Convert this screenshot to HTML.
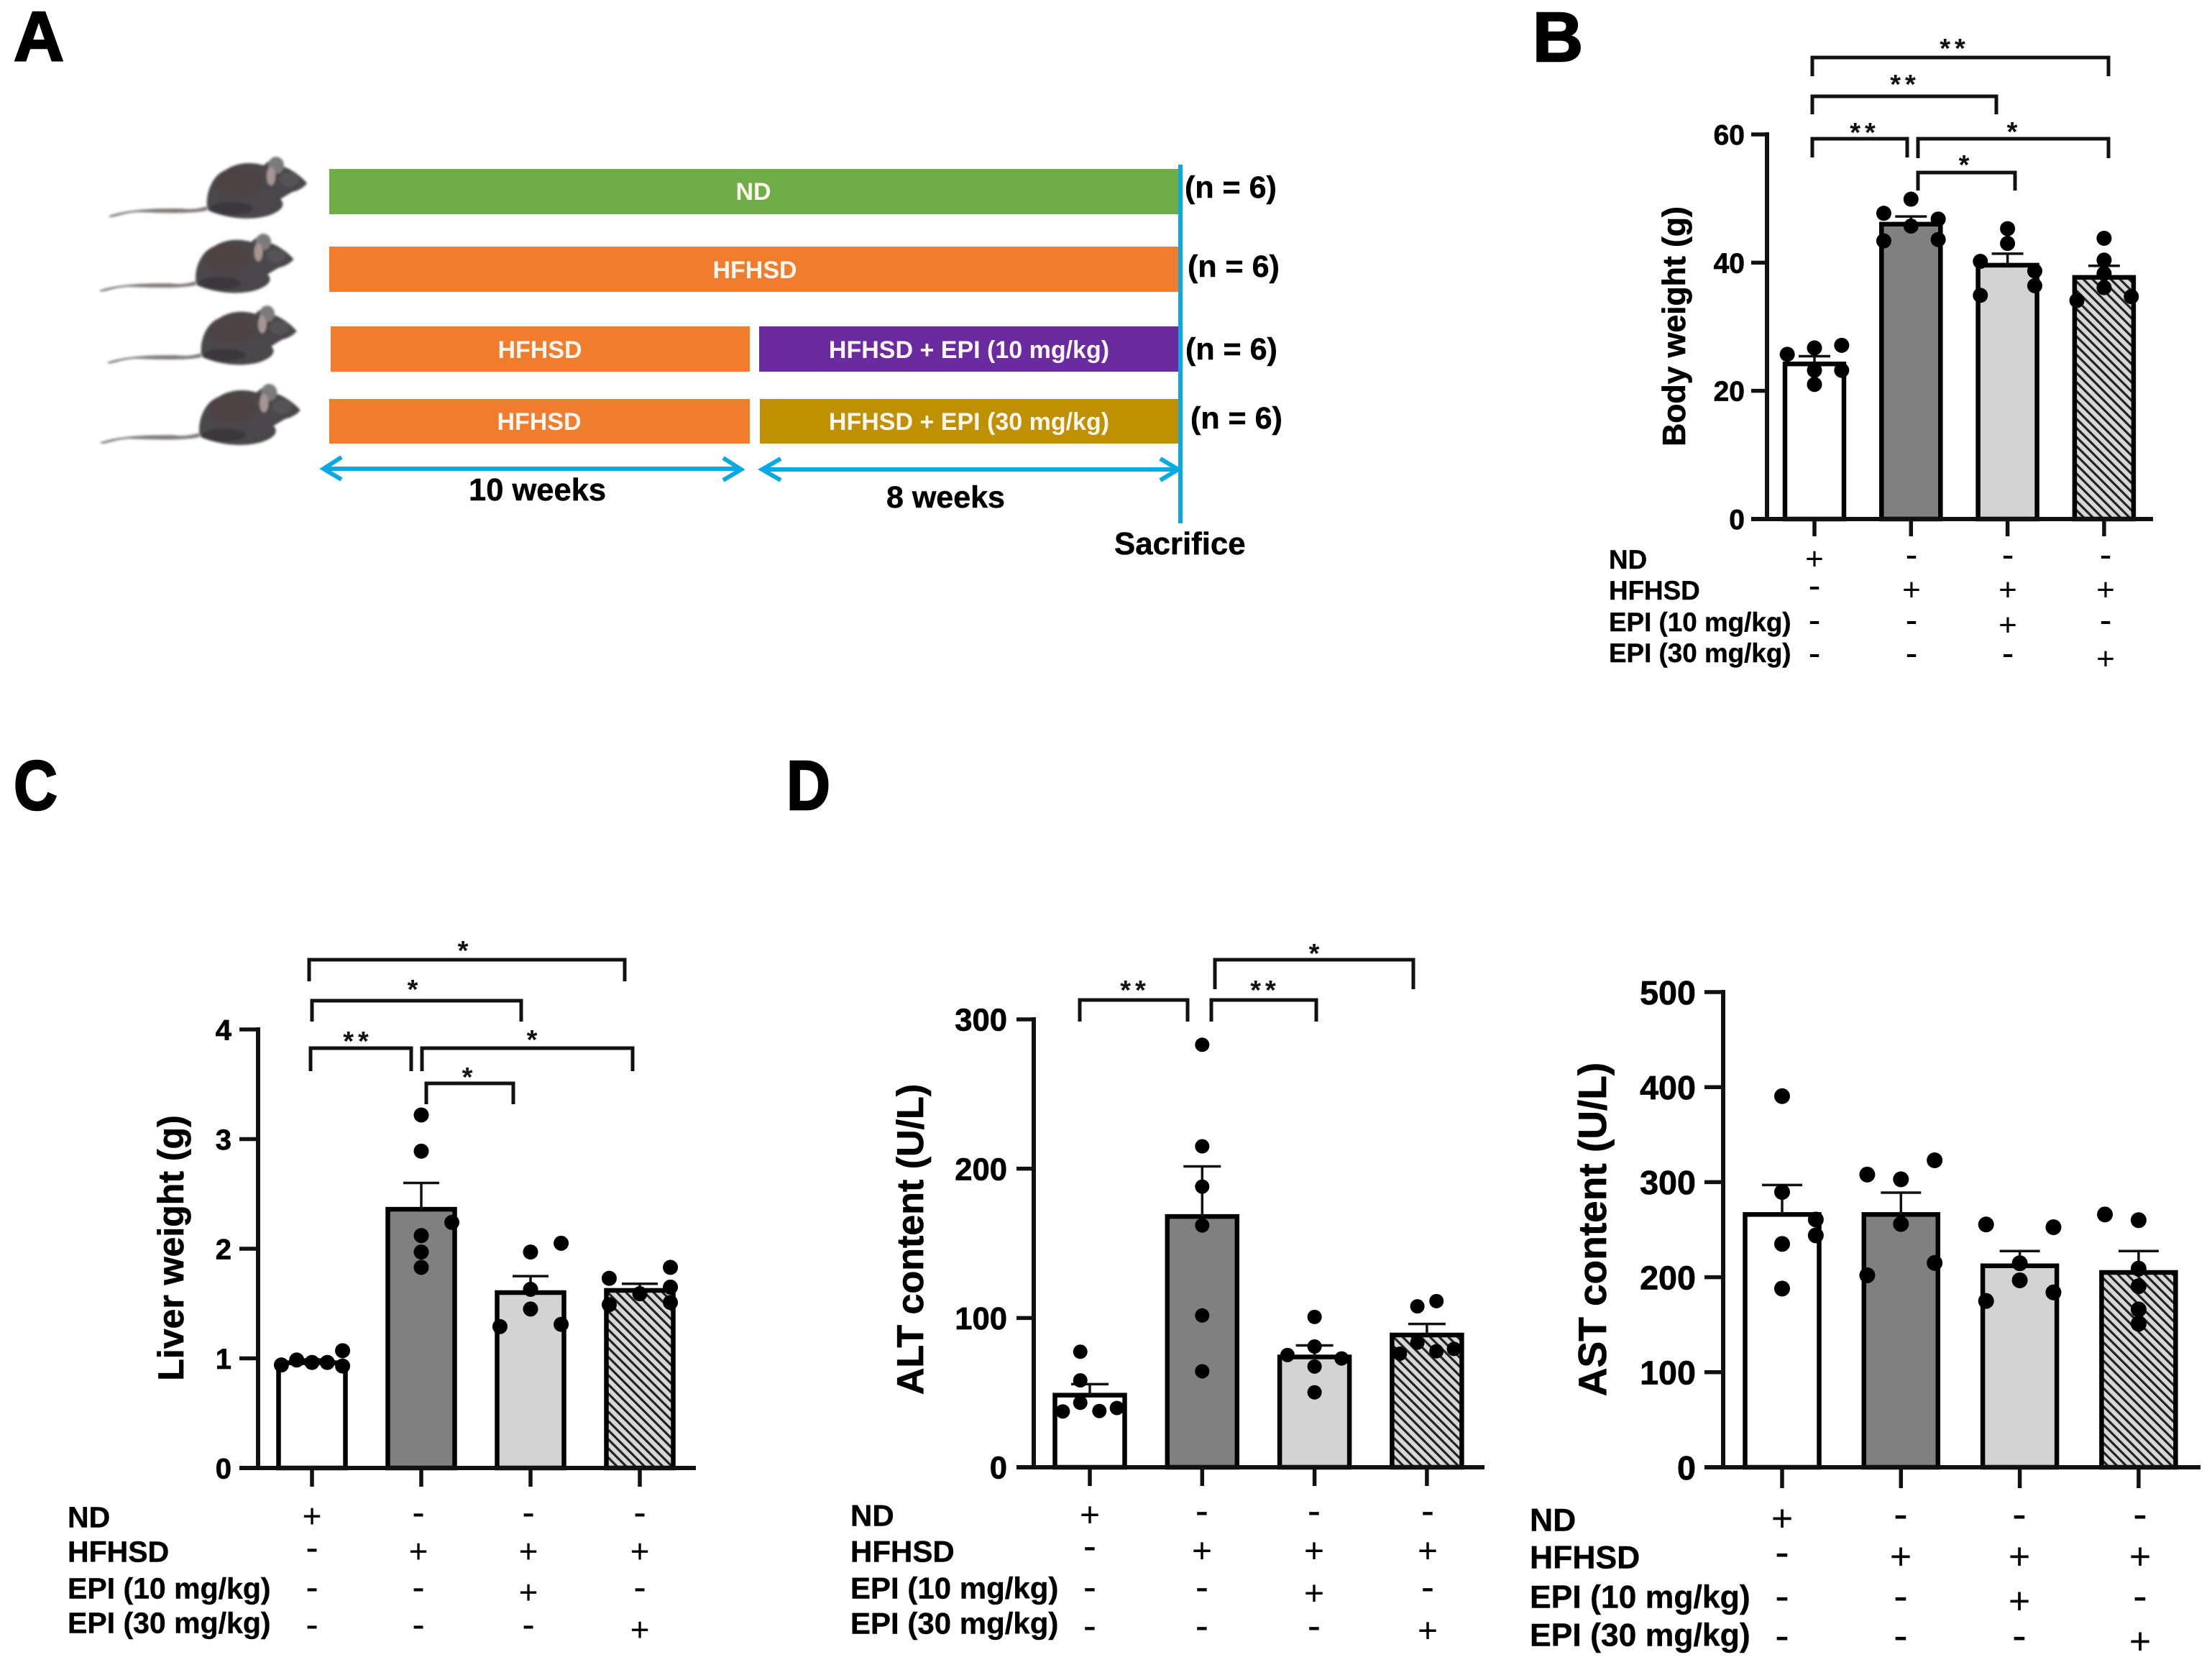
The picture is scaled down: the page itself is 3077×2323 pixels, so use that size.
<!DOCTYPE html>
<html lang="en">
<head>
<meta charset="utf-8">
<title>Epicatechin mouse study figure</title>
<style>
html,body{margin:0;padding:0;background:#fff}
svg{display:block;font-family:"Liberation Sans",Arial,sans-serif}
.b{font-weight:700;fill:#000;stroke:#000;stroke-width:.5px}
.w{font-weight:700;fill:#fdf6ee;text-anchor:middle;font-size:34px}
.panel{font-weight:700;font-size:97px;stroke:#000;stroke-width:2.5px;fill:#000}
.n{font-weight:700;font-size:43px;stroke:#000;stroke-width:.5px}
.br{fill:none;stroke:#111;stroke-width:5}
.star{font-weight:700;font-size:38px;text-anchor:middle;fill:#111}
.arrow{fill:none;stroke:#0aa9e6;stroke-width:6}
</style>
</head>
<body>
<svg id="figure" xmlns="http://www.w3.org/2000/svg" width="3077" height="2323" viewBox="0 0 3077 2323">
<defs>
<pattern id="hatch" patternUnits="userSpaceOnUse" width="9" height="9" patternTransform="rotate(-45)">
<rect width="9" height="9" fill="#d8d8d8"/>
<rect width="3.2" height="9" fill="#222"/>
</pattern>
<filter id="soft" x="-5%" y="-5%" width="110%" height="110%"><feGaussianBlur stdDeviation="1.6"/></filter>
<g id="mouse-shape" filter="url(#soft)">
<path fill="#807c7a" d="M0,82 C30,72 70,72 100,72 C115,74 125,72 136,69 L136,75 C110,80 70,78 40,77 C20,78 10,84 0,84 Z"/>
<path fill="#4a4648" d="M136,69 C134,48 145,25 161,19 C175,9 195,6 215,12 C222,4 235,-2 243,14 C255,18 270,30 275,37 C270,44 260,48 255,49 C247,53 240,58 238,59 C245,66 242,75 221,82 C200,88 170,88 138,75 Z"/>
<ellipse cx="180" cy="35" rx="32" ry="20" fill="#4f4245"/>
<ellipse cx="170" cy="72" rx="30" ry="9" fill="#3a393d"/>
<ellipse cx="232" cy="12" rx="11" ry="12" fill="#7c7a7a"/>
<ellipse cx="225" cy="27" rx="6" ry="13" fill="#a69692"/>
<ellipse cx="250" cy="32" rx="14" ry="10" fill="#555355"/>
</g>
</defs>
<rect width="3077" height="2323" fill="#fff"/>

<g id="panel-a">
<text class="panel" x="19" y="84">A</text>
<use href="#mouse-shape" transform="translate(152,218)"/>
<use href="#mouse-shape" transform="translate(139,325) scale(.98,.96)"/>
<use href="#mouse-shape" transform="translate(150,425) scale(.955,.96)"/>
<use href="#mouse-shape" transform="translate(140,534) scale(1.01,.99)"/>

<rect x="458" y="235" width="1182" height="63" fill="#70ad47"/>
<rect x="458" y="343" width="1182" height="63" fill="#f07d2e"/>
<rect x="460" y="454" width="583" height="63" fill="#f07d2e"/>
<rect x="1056" y="454" width="584" height="63" fill="#6b2ba0"/>
<rect x="458" y="555" width="585" height="62" fill="#f07d2e"/>
<rect x="1057" y="555" width="583" height="62" fill="#bf9000"/>

<text class="w" x="1048" y="278">ND</text>
<text class="w" x="1050" y="387">HFHSD</text>
<text class="w" x="751" y="498">HFHSD</text>
<text class="w" x="1348" y="498">HFHSD + EPI (10 mg/kg)</text>
<text class="w" x="750" y="598">HFHSD</text>
<text class="w" x="1348" y="598">HFHSD + EPI (30 mg/kg)</text>

<text class="n" x="1648" y="275">(n = 6)</text>
<text class="n" x="1652" y="385">(n = 6)</text>
<text class="n" x="1649" y="500">(n = 6)</text>
<text class="n" x="1656" y="596">(n = 6)</text>

<path class="arrow" d="M1642,229 V728"/>
<path class="arrow" d="M450,652 H1030 M475,636 L450,652 L475,667 M1006,637 L1031,653 L1006,668"/>
<path class="arrow" d="M1060,653 H1638 M1086,638 L1060,653 L1086,668 M1614,638 L1639,653 L1614,668"/>

<text class="b" font-size="43.5" x="652" y="696">10 weeks</text>
<text class="b" font-size="43" x="1233" y="706">8 weeks</text>
<text class="b" font-size="43.8" x="1550" y="771">Sacrifice</text>
</g>

<text class="panel" x="2132" y="85">B</text>
<text class="panel" transform="translate(19,1126) scale(.87,1)">C</text>
<text class="panel" transform="translate(1094,1126) scale(.87,1)">D</text>

<g id="chart-layer"></g>

<g>
<path class="br" d="M2521,106 V80 H2933 V106"/>
<path class="br" d="M2521,159 V134 H2777 V159"/>
<path class="br" d="M2521,219 V193 H2653 V219"/>
<path class="br" d="M2668,220 V193 H2933 V220"/>
<path class="br" d="M2668,265 V240 H2803 V265"/>
<text class="star" x="2719" y="80" letter-spacing="6">**</text>
<text class="star" x="2650" y="130" letter-spacing="6">**</text>
<text class="star" x="2594" y="197" letter-spacing="6">**</text>
<text class="star" x="2799" y="196">*</text>
<text class="star" x="2732" y="242">*</text>
</g>

<g>
<path class="br" d="M430,1365 V1335 H869 V1365"/>
<path class="br" d="M434,1421 V1392 H725 V1421"/>
<path class="br" d="M432,1490 V1458 H572 V1490"/>
<path class="br" d="M587,1490 V1458 H880 V1490"/>
<path class="br" d="M593,1536 V1507 H714 V1536"/>
<text class="star" x="644" y="1335">*</text>
<text class="star" x="574" y="1389">*</text>
<text class="star" x="498" y="1461" letter-spacing="6">**</text>
<text class="star" x="740" y="1459">*</text>
<text class="star" x="650" y="1511">*</text>
</g>

<g>
<path class="br" d="M1502,1421 V1391 H1652 V1421"/>
<path class="br" d="M1685,1421 V1391 H1831 V1421"/>
<path class="br" d="M1690,1376 V1335 H1966 V1376"/>
<text class="star" x="1579" y="1390" letter-spacing="6">**</text>
<text class="star" x="1760" y="1390" letter-spacing="6">**</text>
<text class="star" x="1828" y="1339">*</text>
</g>
</svg>

<script>
// Shared categories and treatment matrix
const groupNames = ['nd', 'hfhsd', 'epi-10', 'epi-30'];
const treatmentLabels = ['ND', 'HFHSD', 'EPI (10 mg/kg)', 'EPI (30 mg/kg)'];
const treatmentMatrix = [
  ['+', '-', '-', '-'],
  ['-', '+', '+', '+'],
  ['-', '-', '+', '-'],
  ['-', '-', '-', '+']
];

// Body weight (g)
const bodyWeightTicks = [0, 20, 40, 60];
const bodyWeightMeans = [24.2, 46.0, 39.6, 37.7];
const bodyWeightErrorTops = [25.4, 47.2, 41.4, 39.5];
const bodyWeightPoints = [
  [25.7, 26.7, 27.1, 23.2, 23.2, 21.0],
  [47.7, 49.9, 46.8, 45.7, 43.4, 43.6],
  [45.3, 43.0, 40.2, 38.7, 36.4, 34.9],
  [43.8, 40.4, 38.3, 36.1, 34.1, 34.7]
];
const bodyWeightSwarm = [
  [-1, 0, 1, 0, 1, 0],
  [-1, 0, 1, 0, -1, 1],
  [0, 0, -1, 1, 1, -1],
  [0, 0, 0, 0, -1, 1]
];

// Liver weight (g)
const liverWeightTicks = [0, 1, 2, 3, 4];
const liverWeightMeans = [0.96, 2.36, 1.60, 1.62];
const liverWeightErrorTops = [0.99, 2.60, 1.75, 1.68];
const liverWeightPoints = [
  [0.94, 0.985, 0.963, 0.963, 1.07, 0.93],
  [3.22, 2.89, 2.24, 2.12, 1.97, 1.83],
  [1.97, 2.05, 1.63, 1.45, 1.29, 1.31],
  [1.73, 1.83, 1.65, 1.59, 1.49, 1.51]
];
const liverWeightSwarm = [
  [-1, -0.5, 0, 0.5, 1, 1],
  [0, 0, 1, 0, 0, 0],
  [0, 1, 0, 0, -1, 1],
  [-1, 1, 1, 0, -1, 1]
];

// ALT content (U/L)
const altTicks = [0, 100, 200, 300];
const altMeans = [48.3, 168, 73.9, 88.6];
const altErrorTops = [55.7, 201.5, 81.6, 96];
const altPoints = [
  [77.4, 58.2, 43.2, 37.4, 37.7, 39.7],
  [283, 215, 188, 162, 101.7, 64.3],
  [100.7, 80.9, 75.2, 72.9, 67.5, 50.2],
  [107.8, 111.3, 83.5, 76.1, 77.7, 79.3]
];
const altSwarm = [
  [-0.3, -0.3, -0.3, -0.85, 0.3, 0.85],
  [0, 0, 0, 0, 0, 0],
  [0, 0, -0.85, 0.85, 0, 0],
  [-0.3, 0.3, -0.3, -0.85, 0.3, 0.85]
];

// AST content (U/L)
const astTicks = [0, 100, 200, 300, 400, 500];
const astMeans = [266, 266, 212, 205];
const astErrorTops = [297, 289, 227.5, 227.5];
const astPoints = [
  [390.5, 289.6, 260.7, 244, 235, 188],
  [308, 303, 323, 256, 215, 202],
  [255.5, 252.6, 214.7, 196.7, 184, 175],
  [266, 260, 209, 190.5, 166, 151]
];
const astSwarm = [
  [0, 0, 1, 1, 0, 0],
  [-1, 0, 1, 0, 1, -1],
  [-1, 1, 0, 0, 1, -1],
  [-1, 0, 0, 0, 0, 0]
];

const SVG_NS = 'http://www.w3.org/2000/svg';
const barFills = ['#ffffff', '#808080', '#d3d3d3', 'url(#hatch)'];

function make(parent, tag, attrs, text) {
  const el = document.createElementNS(SVG_NS, tag);
  for (const key in attrs) el.setAttribute(key, attrs[key]);
  if (text !== undefined) el.textContent = text;
  parent.appendChild(el);
  return el;
}

function drawPanel(c) {
  const layer = document.getElementById('chart-layer');
  const maxTick = c.ticks[c.ticks.length - 1];
  const yScale = v => c.y0 - (v / maxTick) * (c.y0 - c.yTop);
  const xScale = i => c.x0 + i * c.step;

  const g = make(layer, 'g', {});
  
  

  // bars
  c.means.forEach((m, i) => {
    const bar = make(g, 'rect', {
      x: xScale(i) - c.half, y: yScale(m),
      width: c.half * 2, height: c.y0 - yScale(m),
      fill: barFills[i], stroke: '#000', 'stroke-width': 6.5
    });
    
    
  });

  // error bars
  c.errors.forEach((e, i) => {
    const err = make(g, 'path', {
      d: 'M' + xScale(i) + ',' + yScale(c.means[i]) + ' V' + yScale(e) +
         ' M' + (xScale(i) - c.cap) + ',' + yScale(e) + ' H' + (xScale(i) + c.cap),
      fill: 'none', stroke: '#111', 'stroke-width': 3.5
    });
    
    
  });

  // data points
  c.points.forEach((vals, i) => {
    vals.forEach((v, j) => {
      const dot = make(g, 'circle', {
        cx: xScale(i) + c.swarm[i][j] * 0.86 * (c.half + 3),
        cy: yScale(v), r: c.r, fill: '#000'
      });
      
      
    });
  });

  // axes
  const yAxis = make(g, 'path', {
    d: 'M' + c.axisX + ',' + (c.y0 + 3) + ' V' + (yScale(maxTick) - 3),
    stroke: '#111', 'stroke-width': 6, fill: 'none'
  });
  
  

  const xAxis = make(g, 'path', {
    d: 'M' + (c.axisX - c.tickLen) + ',' + c.y0 + ' H' + c.xEnd,
    stroke: '#111', 'stroke-width': 6, fill: 'none'
  });
  
  

  c.ticks.forEach(t => {
    const tick = make(g, 'path', {
      d: 'M' + (c.axisX - c.tickLen) + ',' + yScale(t) + ' H' + c.axisX,
      stroke: '#111', 'stroke-width': 5.5, fill: 'none'
    });
    
    

    const label = make(g, 'text', {
      x: c.tickLabelX, y: yScale(t) + c.tickFont * 0.36,
      'text-anchor': 'end', 'font-size': c.tickFont, 'font-weight': 700, fill: '#000',
      stroke: '#000', 'stroke-width': 0.7
    }, String(t));
    
    
  });

  c.means.forEach((m, i) => {
    const xt = make(g, 'path', {
      d: 'M' + xScale(i) + ',' + c.y0 + ' V' + (c.y0 + c.xTickLen),
      stroke: '#111', 'stroke-width': 5.5, fill: 'none'
    });
    
    
  });

  // y title
  const title = make(g, 'text', {
    x: c.titleX, y: c.titleY, 'text-anchor': 'middle',
    transform: 'rotate(-90 ' + c.titleX + ' ' + c.titleY + ')',
    'font-size': c.titleFont, 'font-weight': 700, fill: '#000',
    stroke: '#000', 'stroke-width': 0.7
  }, c.title);
  
  

  // treatment table
  treatmentLabels.forEach((text, r) => {
    const rowLabel = make(g, 'text', {
      x: c.rowLabelX, y: c.rowLabelY[r] + c.rowFont * 0.35,
      'font-size': c.rowFont, 'font-weight': 700, fill: '#000',
      stroke: '#000', 'stroke-width': 0.4
    }, text);
    
    

    treatmentMatrix[r].forEach((sign, k) => {
      const isPlus = sign === '+';
      const size = isPlus ? c.plusFont : c.plusFont * 1.15;
      const cy = isPlus ? c.plusY[r] : c.minusY[r];
      const mark = make(g, 'text', {
        x: c.signX[k], y: cy + size * (isPlus ? 0.34 : 0.27),
        'text-anchor': 'middle', 'font-size': size, fill: '#000'
      }, sign);
      
      
    });
  });
}

drawPanel({
  name: 'body-weight', title: 'Body weight (g)',
  ticks: bodyWeightTicks, means: bodyWeightMeans, errors: bodyWeightErrorTops,
  points: bodyWeightPoints, swarm: bodyWeightSwarm,
  x0: 2524, step: 134.3, half: 41, cap: 22, r: 10.5,
  y0: 722, yTop: 187, axisX: 2458, tickLen: 22, xEnd: 2995, xTickLen: 24,
  tickLabelX: 2427, tickFont: 39, titleX: 2344, titleY: 454, titleFont: 44.5,
  rowLabelX: 2238, rowLabelY: [778, 821, 865, 908], rowFont: 36.8,
  plusFont: 44, plusY: [777, 820, 869, 916], minusY: [775, 818, 866, 912],
  signX: [2524, 2659, 2793, 2929]
});

drawPanel({
  name: 'liver-weight', title: 'Liver weight (g)',
  ticks: liverWeightTicks, means: liverWeightMeans, errors: liverWeightErrorTops,
  points: liverWeightPoints, swarm: liverWeightSwarm,
  x0: 434, step: 152, half: 46.5, cap: 25, r: 10.5,
  y0: 2042, yTop: 1432, axisX: 359, tickLen: 26, xEnd: 968, xTickLen: 26,
  tickLabelX: 322, tickFont: 40, titleX: 255, titleY: 1736, titleFont: 50,
  rowLabelX: 94, rowLabelY: [2110, 2158, 2209, 2257], rowFont: 41,
  plusFont: 46, plusY: [2109, 2158, 2215, 2267], minusY: [2107, 2156, 2211, 2263],
  signX: [434, 582, 735, 890]
});

drawPanel({
  name: 'alt-content', title: 'ALT content (U/L)',
  ticks: altTicks, means: altMeans, errors: altErrorTops,
  points: altPoints, swarm: altSwarm,
  x0: 1516, step: 156.3, half: 48.5, cap: 26, r: 10,
  y0: 2041, yTop: 1418, axisX: 1438, tickLen: 24, xEnd: 2065, xTickLen: 26,
  tickLabelX: 1401, tickFont: 43.6, titleX: 1284, titleY: 1724, titleFont: 52,
  rowLabelX: 1183, rowLabelY: [2108, 2158, 2209, 2258], rowFont: 42,
  plusFont: 48, plusY: [2107, 2157, 2216, 2268], minusY: [2105, 2154, 2211, 2265],
  signX: [1516, 1672, 1828, 1986]
});

drawPanel({
  name: 'ast-content', title: 'AST content (U/L)',
  ticks: astTicks, means: astMeans, errors: astErrorTops,
  points: astPoints, swarm: astSwarm,
  x0: 2479, step: 165.3, half: 51.5, cap: 28, r: 11,
  y0: 2041, yTop: 1380, axisX: 2397, tickLen: 26, xEnd: 3061, xTickLen: 29,
  tickLabelX: 2359, tickFont: 46.7, titleX: 2234, titleY: 1710, titleFont: 55,
  rowLabelX: 2128, rowLabelY: [2114, 2166, 2221, 2274], rowFont: 44.5,
  plusFont: 52, plusY: [2112, 2165, 2227, 2283], minusY: [2110, 2163, 2224, 2279],
  signX: [2479, 2644, 2809, 2977]
});
</script>
</body>
</html>
